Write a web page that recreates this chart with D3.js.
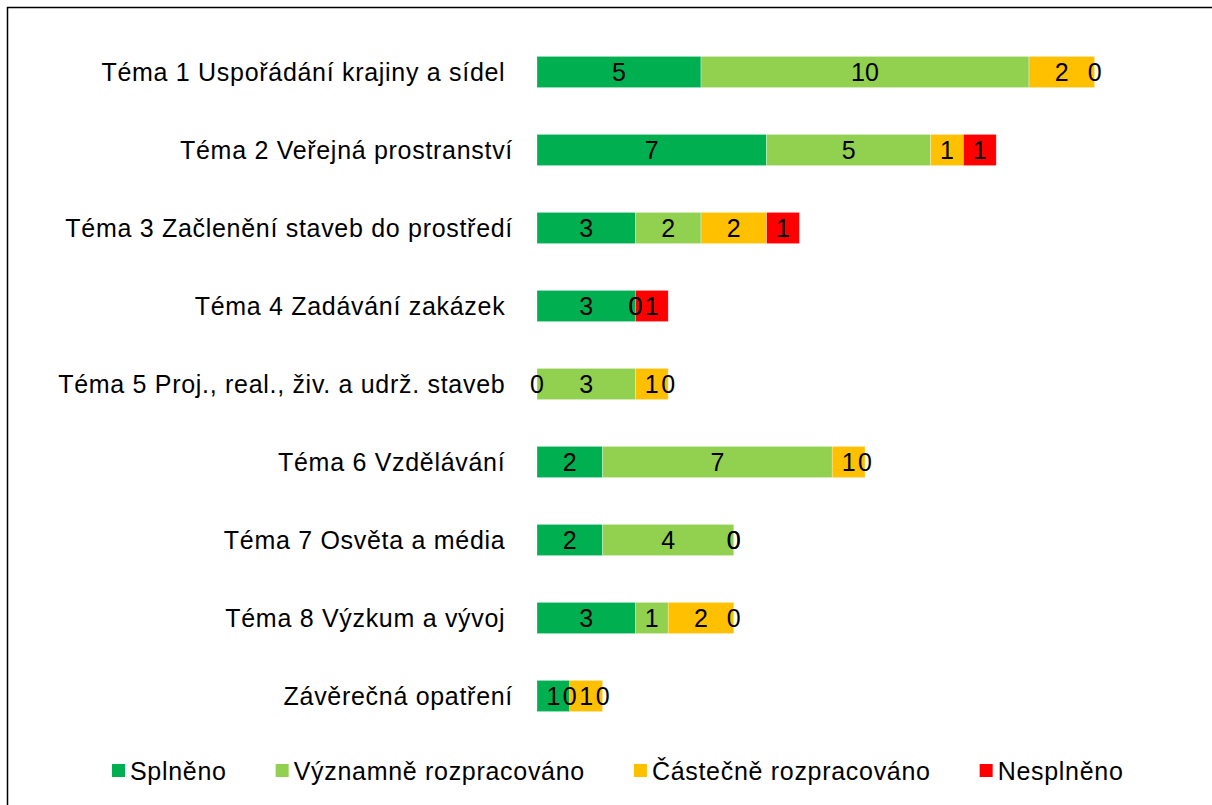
<!DOCTYPE html>
<html>
<head>
<meta charset="utf-8">
<script src="https://cdn.jsdelivr.net/npm/d3@7"></script>
<style>
    body { margin: 0; background: #fff; }
    svg { display: block; font-family: "Liberation Sans", Arial, sans-serif; }
    .cat-label { white-space: pre; }
    text { letter-spacing: 0.7px; }
</style>
</head>
<body>
<div id="chart"></div>
<script>
// Categories (top to bottom)
const categories = [
    "Téma 1 Uspořádání krajiny a sídel ",
    "Téma 2 Veřejná prostranství",
    "Téma 3 Začlenění staveb do prostředí",
    "Téma 4 Zadávání zakázek ",
    "Téma 5 Proj., real., živ. a udrž. staveb ",
    "Téma 6 Vzdělávání ",
    "Téma 7 Osvěta a média ",
    "Téma 8 Výzkum a vývoj ",
    "Závěrečná opatření"
];

// Series values, one array per status
const splneno      = [5, 7, 3, 3, 0, 2, 2, 3, 1];
const vyznamne     = [10, 5, 2, 0, 3, 7, 4, 1, 0];
const castecne     = [2, 1, 2, 0, 1, 1, 0, 2, 1];
const nesplneno    = [0, 1, 1, 1, 0, 0, 0, 0, 0];

const seriesNames = ["Splněno", "Významně rozpracováno", "Částečně rozpracováno", "Nesplněno"];
const seriesColors = ["#00B050", "#92D050", "#FFC000", "#FF0000"];

const width = 1212;
const height = 805;
const fontSize = "25px";

const svg = d3.select("#chart")
    .append("svg")
    .attr("width", width)
    .attr("height", height);

// Outer frame (runs off the right and bottom edges like the reference)
svg.append("rect")
    .attr("x", 7.5)
    .attr("y", 7.5)
    .attr("width", 1230)
    .attr("height", 830)
    .attr("fill", "none")
    .attr("stroke", "#000")
    .attr("stroke-width", 1.5);

// Build rows for the stack
const rows = categories.map((c, i) => ({
    cat: c,
    s0: splneno[i],
    s1: vyznamne[i],
    s2: castecne[i],
    s3: nesplneno[i]
}));
const keys = ["s0", "s1", "s2", "s3"];
const stacked = d3.stack().keys(keys)(rows);

const x = d3.scaleLinear()
    .domain([0, 18])
    .range([537, 537 + 18 * 32.8]);

const y = d3.scaleBand()
    .domain(categories)
    .range([33, 735])
    .paddingInner(0.6)
    .paddingOuter(0.3);

// Bars
svg.append("g")
    .selectAll("g")
    .data(stacked)
    .enter()
    .append("g")
    .attr("fill", (d, i) => seriesColors[i])
    .selectAll("rect")
    .data(d => d)
    .enter()
    .append("rect")
    .attr("x", d => x(d[0]))
    .attr("y", d => y(d.data.cat))
    .attr("width", d => x(d[1]) - x(d[0]))
    .attr("height", y.bandwidth())
    .attr("stroke", "#fff")
    .attr("stroke-opacity", 0.5)
    .attr("stroke-width", 0.6);

// Value labels drawn on top of all bars (zeros included)
svg.append("g")
    .selectAll("g")
    .data(stacked)
    .enter()
    .append("g")
    .selectAll("text")
    .data(d => d)
    .enter()
    .append("text")
    .attr("x", d => (x(d[0]) + x(d[1])) / 2)
    .attr("y", d => y(d.data.cat) + y.bandwidth() / 2)
    .attr("dy", "0.36em")
    .attr("text-anchor", "middle")
    .attr("fill", "#000")
    .style("font-size", fontSize)
    .style("letter-spacing", "0px")
    .text(d => d[1] - d[0]);

// Category labels
svg.append("g")
    .selectAll("text")
    .data(categories)
    .enter()
    .append("text")
    .attr("class", "cat-label")
    .attr("x", 513)
    .attr("y", d => y(d) + y.bandwidth() / 2)
    .attr("dy", "0.36em")
    .attr("text-anchor", "end")
    .attr("fill", "#000")
    .style("font-size", fontSize)
    .text(d => d);

// Legend
const legend = svg.append("g");
let lx = 112;
seriesNames.forEach((name, i) => {
    const item = legend.append("g");
    item.append("rect")
        .attr("x", lx)
        .attr("y", 764)
        .attr("width", 13)
        .attr("height", 13)
        .attr("fill", seriesColors[i]);
    const t = item.append("text")
        .attr("x", lx + 18)
        .attr("y", 771)
        .attr("dy", "0.36em")
        .attr("fill", "#000")
        .style("font-size", fontSize)
        .text(name);
    lx += 18 + t.node().getComputedTextLength() + 49;
});
</script>
</body>
</html>
